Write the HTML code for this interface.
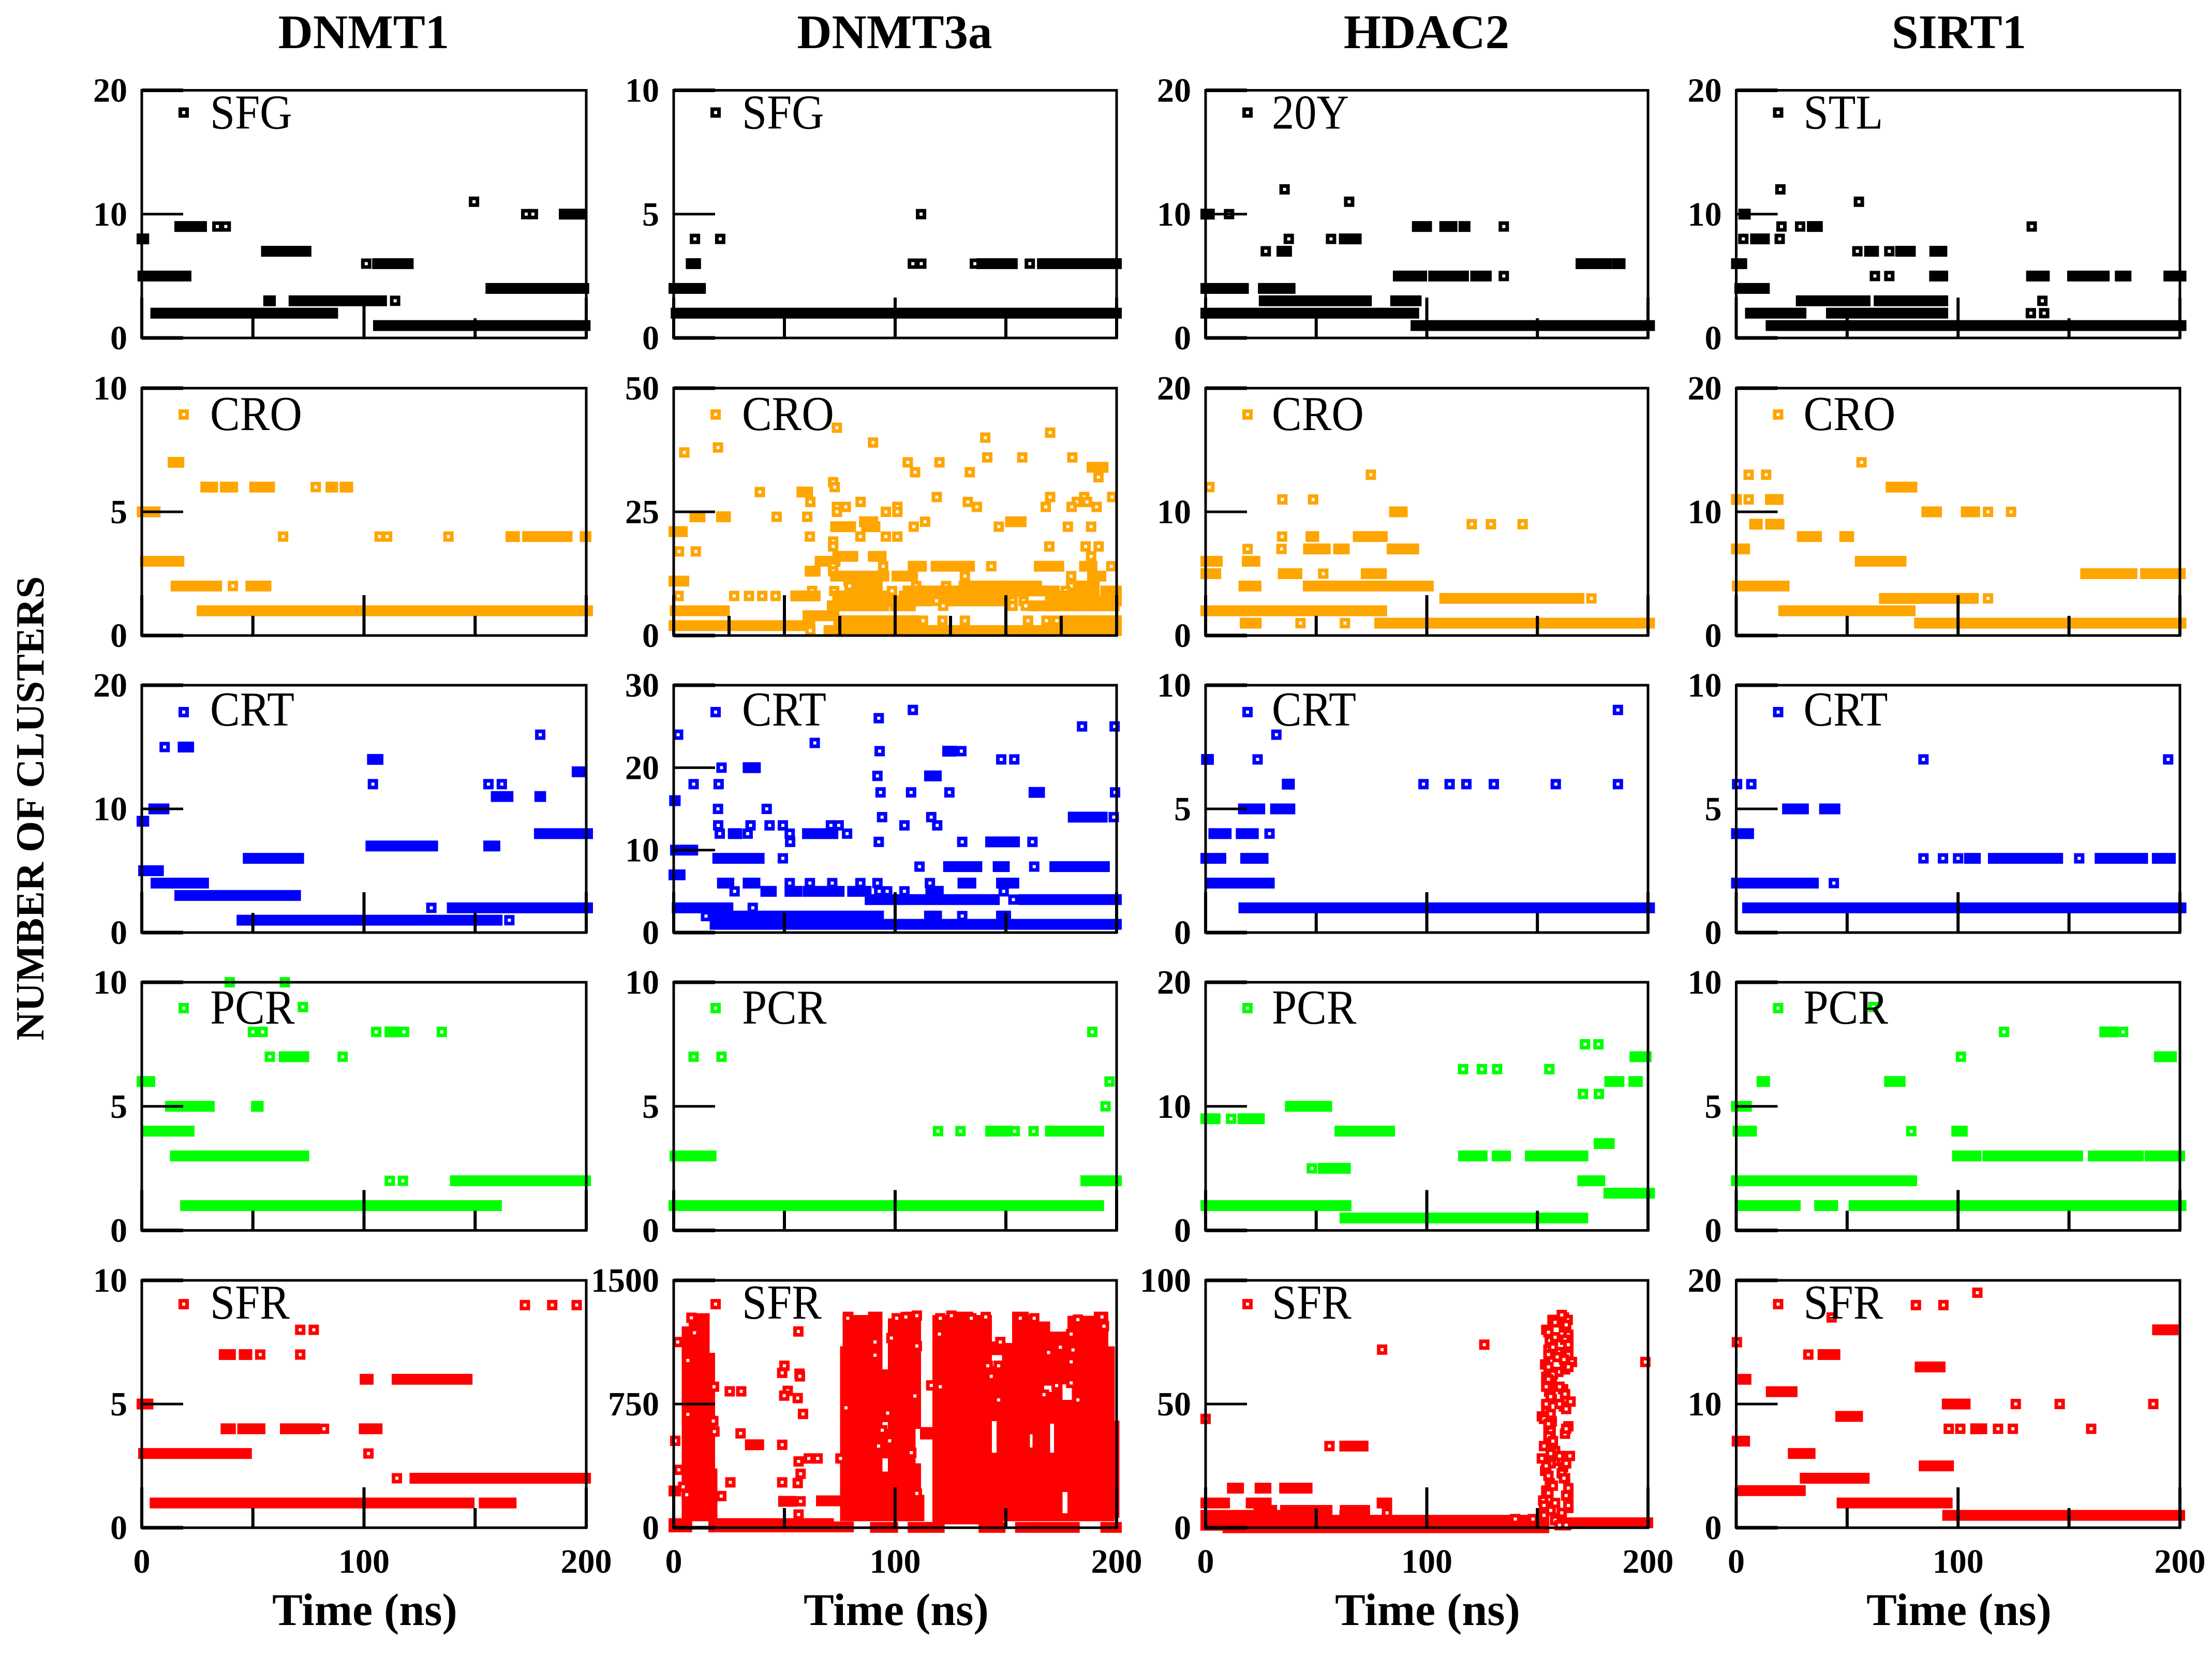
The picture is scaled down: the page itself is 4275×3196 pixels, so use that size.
<!DOCTYPE html>
<html lang="en">
<head>
<meta charset="utf-8">
<title>Number of clusters over time</title>
<style>
html,body{margin:0;padding:0;background:#fff;}
svg{display:block;font-family:"Liberation Serif",serif;}
.b{font-weight:bold;}
</style>
</head>
<body>
<svg id="chart" xmlns="http://www.w3.org/2000/svg" width="4275" height="3196" viewBox="0 0 4275 3196">
<rect width="4275" height="3196" fill="#fff"/>
<text class="b" x="703" y="93" font-size="93" text-anchor="middle">DNMT1</text>
<text class="b" x="1729" y="93" font-size="93" text-anchor="middle">DNMT3a</text>
<text class="b" x="2757" y="93" font-size="93" text-anchor="middle">HDAC2</text>
<text class="b" x="3786" y="93" font-size="93" text-anchor="middle">SIRT1</text>
<text class="b" transform="translate(84,1562) rotate(-90)" font-size="77.5" text-anchor="middle">NUMBER OF CLUSTERS</text>
<text class="b" x="705" y="3140" font-size="88" text-anchor="middle">Time (ns)</text>
<text class="b" x="1732" y="3140" font-size="88" text-anchor="middle">Time (ns)</text>
<text class="b" x="2759" y="3140" font-size="88" text-anchor="middle">Time (ns)</text>
<text class="b" x="3786" y="3140" font-size="88" text-anchor="middle">Time (ns)</text>
</svg>
<script>
// Each panel: cluster count (values) held over a time span in ns (starts..ends). start==end is a single frame.
const dnmt1SfgValues=[11,10,10,10,9,9,9,8,7,6,6,5,4,3,3,3,2,1];
const dnmt1SfgStarts=[149.5,173,176,190,17,34,37.8,0,56,101,106,0.4,157,57,68.4,114,6.2,106.4];
const dnmt1SfgEnds=[149.5,173,176,197.5,27,34,37.8,1,74,101,120,20,199,58,108,114,86,199.6];

const dnmt1CroValues=[7,6,6,6,6,6,6,5,4,4,4,4,4,4,4,3,2,2,2,1];
const dnmt1CroStarts=[14,28.7,37.5,50.7,78.3,85,91.4,0.1,63.6,107,110.4,138,166,173.5,199.4,1.5,15.3,41,49,27];
const dnmt1CroEnds=[16.8,32,41,57.6,78.3,86,92.8,6.1,63.6,107,110.4,138,167.8,191.5,200,16.8,33.8,41,56,200.7];

const dnmt1CrtValues=[15,15,16,14,13,12,12,12,11,11,10,9,8,7,7,6,5,4,3,2,2,1,1];
const dnmt1CrtStarts=[10.3,18.5,179.3,103.7,195.8,104,156,162,159.4,179,5.3,0,178.8,103,156,47.8,0.7,6.3,17,130.3,139.6,45,165.4];
const dnmt1CrtEnds=[10.3,21.2,179.3,106.4,197.2,104,156,162,164.9,179.6,10.1,1,200.7,131,159,70.7,7.6,27.9,69.3,130.3,200.7,160,165.4];

const dnmt1PcrValues=[10,10,9,8,8,8,8,8,8,7,7,7,6,5,5,4,3,2,2,2,1];
const dnmt1PcrStarts=[39.6,64.4,72.5,50,54.4,105.5,111.6,118,135,57.6,64,90.4,0,12.8,51.5,2,15,111.6,117.5,141,19.6];
const dnmt1PcrEnds=[39.6,64.4,72.5,50,54.4,105.5,113.4,118,135,57.6,73,90.4,3.7,30.5,52.5,21.4,73,111.6,117.5,199.8,159.7];

const dnmt1SfrValues=[9,9,9,8,8,7,7,7,7,6,6,5,4,4,4,4,4,3,3,2,2,1,1];
const dnmt1SfrStarts=[172.4,184.7,195.7,71.3,77.4,37,46,53.3,71.3,100.4,114.8,0,37.8,45.3,64.5,82,100,0.7,102,114.8,122.8,5.9,154];
const dnmt1SfrEnds=[172.4,184.7,195.7,71.3,77.4,40,47.4,53.3,71.3,102,146.5,2.9,40,53.3,77.7,82,106,47.2,102,114.8,199.8,147.4,166.3];

const dnmt3aSfgValues=[5,4,4,3,3,3,3,3,3,3,2,1];
const dnmt3aSfgStarts=[111.7,9.6,21,7.8,108,111.8,136,139,160.8,166.4,0,1];
const dnmt3aSfgEnds=[111.7,9.6,21,10,108,111.8,136,153,160.8,200,12.2,200];

const dnmt3aCroValues=[38,37,42,39,40,41,35,35,36,36,36,33,33,34,32,31,30,
 29,29,28,28,28,28,27,27,27,27,27,
 26,26,26,26,26,26,26,25,25,25,
 24,24,24,24,23,23,23,
 22,22,22,22,22,22,21,
 20,20,20,20,19,18,18,18,18,17,17,
 16,16,16,15,
 14,14,14,14,14,14,14,14,13,13,
 12,12,12,12,12,11,11,
 10,10,10,10,10,10,10,10,
 9,9,9,9,9,9,9,9,9,9,
 8,8,8,8,8,8,8,8,8,
 7,7,7,7,7,7,
 6,6,6,6,6,6,5,4,
 3,3,3,3,3,3,3,3,3,3,2,1,1];
const dnmt3aCroStarts=[20,4.8,73.7,90,140.7,170,105.7,120,141.6,157.4,180,109,133.7,188.8,191.8,72,72.7,
 38.9,57.8,118.8,170,185.4,198,61.7,84.4,132.8,182,186.6,
 73.7,77.7,101,136.9,168,179.7,191,95.8,101,73.7,
 9.5,21.5,46.5,60.3,86,113.5,152,
 73,87,108.4,146.8,178,188.5,0,
 61.5,84.3,95.8,101,72,169.6,186,191.9,72,2.4,10,
 74,90,188.5,66,
 94.6,108,118.4,143.4,165,185.4,197.6,72,61.5,72,
 73,100.7,131.5,179.5,189,0,79,
 79.4,83,109.5,123,131,152.6,179.5,183,
 62.5,72.5,83,98.6,105.7,128,150,177,183,195,
 2.2,27.3,34,40,46,55,74,104,170,
 74,118.7,125.5,153,158,172,
 71.5,100,121.7,153,159,163,0.6,60.5,
 74.5,112.6,121.4,131.5,160,168.3,173,177,185.4,186.5,0,70,61.7];
const dnmt3aCroEnds=[20,4.8,73.7,90,140.7,170,105.7,120,141.6,157.4,180,109,133.7,194,191.8,72,72.7,
 38.9,60.6,118.8,170,185.4,198,61.7,84.4,132.8,182,186.6,
 73.7,77.7,101,136.9,168,179.7,191,95.8,101,73.7,
 12,23.5,46.5,60.3,90,113.5,157,
 80,91,108.4,146.8,178,188.5,4,
 61.5,84.3,95.8,101,72,169.6,186,191.9,72,2.4,10,
 81,93.8,188.5,73,
 94.6,112,133.7,143.4,174,189,197.6,72,64,72,
 95,108,131.5,179.5,193,4.7,92,
 79.4,92,109.5,123,149,164,179.5,190,
 62.5,72.5,92,98.6,127,149,172,177,188,200,
 2.2,27.3,34,40,46,64,95,125,190,
 114,118.7,150.4,153,158,200,
 95,107,121.7,153,159,199,23,72.5,
 108.7,112.6,121.4,131.5,160,168.3,173,184,185.4,200,61.6,200,61.7];

const dnmt3aCrtValues=[27,26,25,25,24,23,22,22,22,21,21,20,20,19,19,18,18,
 17,17,17,17,17,16,15,15,14,14,14,14,
 13,13,13,13,13,13,13,13,12,12,12,12,12,12,
 11,11,11,11,11,10,9,9,8,8,8,8,8,7,
 6,6,6,6,6,6,6,6,6,6,
 5,5,5,5,5,5,5,5,5,5,
 4,4,4,3,3,2,2,2,2,2,1];
const dnmt3aCrtStarts=[108,92.6,184.4,199.1,2,63.7,93,123.6,129.9,147.9,153.8,21.6,33.5,92,115.4,9,20.3,
 93.4,107.2,124.5,162.6,199.3,0.3,20,42,94.1,116.3,180.3,198.7,
 20.1,34.7,43.3,49.3,71,74.5,104.2,119,20.8,26.8,33.4,52.4,60.3,78.3,
 52.6,92.6,130.3,143,162,0.7,19.8,49.3,111,124,146.4,162.8,172,0,
 21.9,33.5,52.4,61.5,71.6,84.3,92,115.7,130.5,147.9,
 27.5,41.5,52.4,60.6,80.7,92.8,96.4,104.2,116,149,
 88.6,153.4,158,1.5,35.7,14.6,18.9,115.4,130.3,147.9,18.6];
const dnmt3aCrtEnds=[108,92.6,184.4,199.1,2,63.7,93,125.4,129.9,147.9,153.8,21.6,37,92,118.7,9,20.3,
 93.4,107.2,124.5,165.3,199.3,0.8,20,42,94.1,116.3,193.6,198.7,
 20.1,34.7,43.3,49.3,71,74.5,104.2,119,20.8,28.6,33.4,52.4,72,78.3,
 52.6,92.6,130.3,154,162,8.7,38.7,49.3,111,137,149.4,162.8,194.6,3,
 25,36.8,52.4,61.5,71.6,84.3,92,115.7,134.3,153.7,
 27.5,44.2,55.8,74.8,87,92.8,96.4,104.2,119.6,149,
 144.9,153.4,200,24.6,35.7,14.6,92.6,118.8,130.3,150,200];

const dnmt3aPcrValues=[8,7,7,6,5,4,4,4,4,4,4,3,2,1];
const dnmt3aPcrStarts=[189,9,21.6,196.8,195,119.4,129.5,143,154,162.5,170,0.5,186,0];
const dnmt3aPcrEnds=[189,9,21.6,196.8,195,119.4,129.5,150,154,162.5,192,17,200,192];

const dnmt3aSfrValues=[1126,527,351,223,827,827,572,503,275,192,503,275,982,939,934,918,1190,830,801,786,690,420,420,402,327,271,160,160,80,420,163,25,5,25,5,2,2,2,2,2,2,1273,1182,1014,855,687,647,583,248,200,1270,1046,1150,1270,1278,1286,1270,1286,1270,1278,1270,1270,1262,1278,1222,1174,1102,1126,1126,1094,1174,1078,1006,1062,918,862,878,775,775,855,799,727,591,527,495,455,695,863,982,982,807,208];
const dnmt3aSfrStarts=[1.8,0.7,2.3,0,25.3,30.5,30.2,34.5,25.6,21.5,49,49,50,49,56.8,57,56.3,51.5,49.9,56,58.4,61,65,56.4,57.3,56,49.5,57.3,56.4,75.3,66.6,18,18,0,0,91,108,140,156.5,165,195,8,9.4,6.4,18.2,6.4,17.9,18.4,4.3,5.9,78.6,90.9,98.3,100.7,104.8,109.8,120.4,125.4,134.4,140.9,156.5,162.8,182.5,193.4,194.3,120,109.8,90.9,147.5,174.6,179.5,180.3,179.5,169.3,143.4,172.9,179.5,146.7,182.5,120.4,108.9,77.8,94.2,97.5,92.5,107.3,96.6,116.3,141.8,146.7,167.2,109.8];
const dnmt3aSfrEnds=[1.8,0.7,2.3,1,25.3,30.5,30.2,38.5,25.6,21.5,49,49,50,49,56.8,57,56.3,51.5,49.9,56,58.4,61,65,56.4,57.3,56,53,57.3,56.4,75.3,77.8,70,79,6,6,99,120,147.5,162,181,200,8,9.4,6.4,18.2,6.4,17.9,18.4,4.3,5.9,78.6,90.9,98.3,100.7,104.8,109.8,120.4,125.4,134.4,140.9,156.5,162.8,182.5,193.4,194.3,120,109.8,90.9,147.5,174.6,179.5,180.3,179.5,169.3,143.4,172.9,179.5,146.7,182.5,120.4,108.9,77.8,94.2,97.5,92.5,107.3,96.6,116.3,141.8,146.7,167.2,109.8];
// Dense trajectory regions of the DNMT3a/SFR panel: time span and cluster-count range.
const dnmt3aSfrBlockStarts=[7,3.8,16,16,75.3,76.5,81,88,94,94,94,97,104.5,109,109,111.5,111.5,117,124,135,143.5,143.5,143.5,146,146,148.5,153,160,160.6,160.6,162.3,164,167,167,169.7,169.7,171,169.7,172,175.4,175.4,175.4,177,177,177,178,178,180,190,196,199];
const dnmt3aSfrBlockEnds=[16,7,19.5,18.5,76.5,81,88,94,97,97,97,104.5,109,111.5,111.5,117,113,124,135,143.5,146,146,146,148.5,148.5,153,160,160.6,162.3,162.3,164,167,169.7,169.7,172,171,172,171,175.4,177,177,177,178,178,178,180,180,190,196,199,201];
const dnmt3aSfrBlockLows=[40,40,40,360,40,40,40,40,40,420,640,40,40,40,600,535,40,20,20,20,20,647,1046,20,1046,40,40,40,40,567,40,40,40,862,40,630,630,862,40,216,40,870,216,870,40,40,870,40,40,40,60];
const dnmt3aSfrBlockHighs=[1300,1220,360,1060,1100,1310,1290,1310,340,600,960,1270,1310,390,1310,610,200,1290,1310,1290,455,980,1130,980,1130,1120,1310,1290,487,1290,1290,1250,823,1250,455,823,1190,1190,1190,775,88,1190,775,1190,88,775,1285,1285,1310,1100,650];

const hdac2SfgValues=[12,11,10,10,9,9,9,9,8,8,8,7,7,6,6,5,5,5,5,4,4,3,3,2,1];
const hdac2SfgStarts=[35.7,64.9,0,10.6,95.6,108,116.7,134.8,37.6,56.7,62.6,27.2,34.4,169.6,186,87,103,122,134.8,0,26,26.4,85.8,0,95];
const hdac2SfgEnds=[35.7,64.9,1.8,10.6,100,111.5,117.4,134.8,37.6,56.7,68.2,27.2,36.7,181.3,187.5,97.8,116.7,127,134.8,17.2,38.3,72.8,95.3,94.2,200.8];

const hdac2CroValues=[13,12,11,11,10,9,9,9,8,8,8,7,7,7,7,7,6,6,5,5,5,5,4,4,3,3,2,1,1,1,1];
const hdac2CroStarts=[74.7,1.7,34.7,48.6,85.3,120.3,129,143.3,34.6,47.5,68.9,19,34.3,46.4,60,84.2,0,18.7,0,35,53.2,72.5,17.2,46.3,108,174.4,0,17.8,42.9,63,78.6];
const hdac2CroEnds=[74.7,1.7,34.7,48.6,89,120.3,129,143.3,34.6,49,80,19,34.3,54.2,62.8,94.2,5.4,22.4,4.7,41.4,53.2,79.6,22.9,100.8,168.9,174.4,79.7,23,42.9,63,200.8];

const hdac2CrtValues=[9,8,7,7,6,6,6,6,6,6,6,5,5,4,4,4,3,3,2,1];
const hdac2CrtStarts=[186.4,32,0.3,23.5,36.8,98.5,110.3,117.9,130.3,158.3,186.4,17,31.5,3.6,16,28.9,0,18,2.8,17.2];
const hdac2CrtEnds=[186.4,32,1.4,23.5,38,98.5,110.3,117.9,130.3,158.3,186.4,24.6,38.2,9.4,21.7,28.9,7,26.1,28.9,200.8];

const hdac2PcrValues=[15,15,14,13,13,13,13,12,12,11,11,10,9,9,9,8,7,6,6,6,5,5,4,3,2,1];
const hdac2PcrStarts=[171.5,177.6,194,116.4,124.9,131.8,155.4,182.6,193.5,170.6,177.8,38.2,0,11.5,16.8,60.6,177.8,116.5,131.7,146.7,48,53,170.4,182.2,0,62.9];
const hdac2PcrEnds=[171.5,177.6,199.3,116.4,124.9,131.8,155.4,187,195.3,170.6,177.8,54.9,4.4,11.5,24.4,83.3,182.6,125.1,135.7,170.7,48,63.3,178.3,200.8,63.6,170.6];

const hdac2SfrValues=[72,74,67,44,33,33,16,16,16,10,10,10,6,5,5,3,1,0,0,3.5,3.5,2,7,7,7,85,84,84,80,81,78,76,75.6,72,71,70,70,67,66,64,63,61,58.6,56,55,54,51,52,49,47,45,43,41,41,38,36,32,29,28,27,24.5,23,22,20,18,15,12,11,10,8,8.5,4,2];
const hdac2SfrStarts=[79.8,126,198.8,0,56,62.8,12,24.5,35.6,0,20.5,79.7,82,0,62.8,0,0,20,10,140,148,165,24,36,63,162,163.7,156.8,154,162,164,162.5,155.6,155,159.5,164,155,165.6,153.5,162.5,159.5,154,156.5,161.6,155.3,162.5,165,156.5,162,154,152,156.5,155,164,162.5,155,156.5,164.7,152,158,161.6,153.5,161,162.5,155.6,154,164,152.6,158,164,153.5,160,161];
const hdac2SfrEnds=[79.8,126,198.8,0,56,71.3,15,27.4,46,8.7,27.5,82,82,55,72,153,153,153,18,140,148,200,30,55,72,162,163.7,156.8,154,162,164,162.5,155.6,155,159.5,164,155,165.6,153.5,162.5,159.5,154,156.5,161.6,155.3,162.5,165,156.5,162,154,152,156.5,155,164,162.5,155,156.5,164.7,152,158,161.6,153.5,161,162.5,155.6,154,164,152.6,158,164,153.5,160,161];
const hdac2SfrClusterValues=[86,83,82,79,77,74,73,69,68,65,65,62,60,57,57,53,50,50,48,46,44,42,40,39,37,35,33,31,30,29,26,26,25,21,20,17,16,14,13,9,9,7,6,5,3,1,1];
const hdac2SfrClusterTimes=[161,158,163,155,158,164,157,159,162,155,164,157,155,154,160,156,160,154,163,156,153,155,163,156,155,157,153,158,156,160,156,163,154,155,162,157,164,155,163,153,164,156,161,153,158,160,163];

const sirt1SfgValues=[12,11,10,9,9,9,9,8,8,8,7,7,7,7,7,6,5,5,5,5,5,5,5,4,3,3,3,2,2,2,2,1];
const sirt1SfgStarts=[19.9,55.3,3.3,20.4,28.8,34.2,133.2,3.2,8.6,19.6,54.6,60,69,74,89.4,0,62.5,69,89.3,133,151.5,173,194.9,1.5,29.2,64.3,138,6.3,42.8,132.8,138.8,15.6];
const sirt1SfgEnds=[19.9,55.3,4.2,20.4,28.8,36.7,133.2,3.2,12.8,19.6,54.6,62,69,78.6,92.8,2.6,62.5,69,93.2,139,166,175.8,200.6,12.8,58.2,93.2,138,29.3,93.2,132.8,138.8,200.6];

const sirt1CroValues=[14,13,13,12,11,11,11,10,10,10,10,9,9,8,8,7,6,5,5,4,3,3,2,1];
const sirt1CroStarts=[56.5,5.6,13.5,69.7,0,5.6,15.3,85.8,103.6,113.5,123.9,8.2,15.4,29.7,48.8,0,55.8,157.4,184.4,0.4,66.7,113.5,21.3,82.5];
const sirt1CroEnds=[56.5,5.6,13.5,79.3,0.2,5.6,19,90.4,107.6,113.5,123.9,9.6,19.4,36.3,50.8,3.9,74.4,178.5,200.3,21.7,107,113.5,78.5,200.6];

const sirt1CrtValues=[7,7,6,6,5,5,4,3,3,3,3,3,3,3,3,2,2,1];
const sirt1CrtStarts=[84.4,194.7,0.4,6.8,23,39.7,0,84.4,93.2,100,105,115.8,154.6,163.9,189.7,0,44,5];
const sirt1CrtEnds=[84.4,194.7,0.4,6.8,30.4,44.6,5.7,84.4,93.2,100,107.9,145,154.6,183.3,195.8,34.9,44,200.6];

const sirt1PcrValues=[9,8,8,8,7,7,6,6,5,4,4,4,3,3,3,3,2,1,1,1];
const sirt1PcrStarts=[61.8,120.7,166,174.4,101.3,190.6,11.5,69,0,0.7,78.9,99.3,99.6,113.3,160.8,186.4,0,2.9,37.5,53];
const sirt1PcrEnds=[61.8,120.7,169.7,174.4,101.3,196.3,12.9,74,4.7,7,78.9,102,108.2,154,181.4,200,79.2,26.7,43.6,200.6];

const sirt1SfrValues=[19,18,18,17,16,15,14,14,13,12,11,10,10,10,10,9,8,8,8,8,8,8,7,6,5,4,3,2,1];
const sirt1SfrStarts=[108.7,81,93.4,43,189.8,0.3,32.5,39,82.8,3,15.7,95,126,145.8,188,47,95.8,101,107.8,118,124.7,160,0.3,25.6,84.6,31,3,47.6,95.2];
const sirt1SfrEnds=[108.7,81,93.4,43,197,0.3,32.5,44.6,92,4.5,25.3,103.3,126,145.8,188,54.8,95.8,101,110.8,118,124.7,160,3.9,33.4,95.8,57.8,29,95.2,200];

// Axis ticks
const yMaxDnmt1=[20,10,20,10,10];
const yMaxDnmt3a=[10,50,30,10,1500];
const yMaxHdac2=[20,20,10,20,100];
const yMaxSirt1=[20,20,10,10,20];
const dnmt3aCrtYTicks=[30,20,10,0];
const xTickLabels=[0,100,200];
const xMajorTicks=[0,100,200];
const xMinorTicks=[50,150];
const xMajorTicksDense=[0,50,100,150,200];
const xMinorTicksDense=[25,75,125,175];
const legendNames=[
  ['SFG','CRO','CRT','PCR','SFR'],
  ['SFG','CRO','CRT','PCR','SFR'],
  ['20Y','CRO','CRT','PCR','SFR'],
  ['STL','CRO','CRT','PCR','SFR']
];

const seriesByColumn=[
 [[dnmt1SfgValues,dnmt1SfgStarts,dnmt1SfgEnds],[dnmt1CroValues,dnmt1CroStarts,dnmt1CroEnds],[dnmt1CrtValues,dnmt1CrtStarts,dnmt1CrtEnds],[dnmt1PcrValues,dnmt1PcrStarts,dnmt1PcrEnds],[dnmt1SfrValues,dnmt1SfrStarts,dnmt1SfrEnds]],
 [[dnmt3aSfgValues,dnmt3aSfgStarts,dnmt3aSfgEnds],[dnmt3aCroValues,dnmt3aCroStarts,dnmt3aCroEnds],[dnmt3aCrtValues,dnmt3aCrtStarts,dnmt3aCrtEnds],[dnmt3aPcrValues,dnmt3aPcrStarts,dnmt3aPcrEnds],[dnmt3aSfrValues,dnmt3aSfrStarts,dnmt3aSfrEnds]],
 [[hdac2SfgValues,hdac2SfgStarts,hdac2SfgEnds],[hdac2CroValues,hdac2CroStarts,hdac2CroEnds],[hdac2CrtValues,hdac2CrtStarts,hdac2CrtEnds],[hdac2PcrValues,hdac2PcrStarts,hdac2PcrEnds],[hdac2SfrValues.concat(hdac2SfrClusterValues),hdac2SfrStarts.concat(hdac2SfrClusterTimes),hdac2SfrEnds.concat(hdac2SfrClusterTimes)]],
 [[sirt1SfgValues,sirt1SfgStarts,sirt1SfgEnds],[sirt1CroValues,sirt1CroStarts,sirt1CroEnds],[sirt1CrtValues,sirt1CrtStarts,sirt1CrtEnds],[sirt1PcrValues,sirt1PcrStarts,sirt1PcrEnds],[sirt1SfrValues,sirt1SfrStarts,sirt1SfrEnds]]
];
const yMaxByColumn=[yMaxDnmt1,yMaxDnmt3a,yMaxHdac2,yMaxSirt1];

// Layout
const colLeft=[274,1302,2330,3355.5];
const colRight=[1133,2158,3185,4213];
const rowTop=[174.5,750,1324,1898,2474];
const rowBottom=[653,1228,1802,2377.5,2952];
const rowColors=['#000000','#ffa500','#0000ff','#00ff00','#ff0000'];
const legendMarkerDy=[43,51,52,50,46];
const legendTextDy=[74,81,78,80,74];
const legendTextDx=[132,132,128,130];
const MARK=20, RUN_HEIGHT=21, STROKE=7;
const svg=document.getElementById('chart');
const NS='http://www.w3.org/2000/svg';

function make(tag,attrs){
  const el=document.createElementNS(NS,tag);
  for(const k in attrs){el.setAttribute(k,attrs[k]);}
  return el;
}
function hollow(parent,cx,cy,color){
  const s=MARK-STROKE;
  const el=make('rect',{x:cx-s/2,y:cy-s/2,width:s,height:s,fill:'#fff',stroke:color,'stroke-width':STROKE});
  
  
  parent.appendChild(el);
}
function run(parent,x0,x1,cy,color){
  const el=make('rect',{x:x0-MARK/2,y:cy-RUN_HEIGHT/2,width:x1-x0+MARK,height:RUN_HEIGHT,fill:color});
  
  
  parent.appendChild(el);
}
function line(parent,x1,y1,x2,y2,w,name){
  const el=make('line',{x1:x1,y1:y1,x2:x2,y2:y2,stroke:'#000','stroke-width':w});
  
  
  parent.appendChild(el);
}
function label(parent,x,y,txt,size,anchor,bold,name){
  const el=make('text',{x:x,y:y,'font-size':size,'text-anchor':anchor});
  if(bold){el.setAttribute('font-weight','bold');}
  el.textContent=txt;
  
  
  parent.appendChild(el);
}

for(let c=0;c<4;c++){
  for(let r=0;r<5;r++){
    const L=colLeft[c],R=colRight[c],T=rowTop[r],B=rowBottom[r];
    const yMax=yMaxByColumn[c][r];
    const color=rowColors[r];
    const xScale=t=>L+(R-L)*t/200;
    const yScale=v=>B-(B-T)*v/yMax;
    const g=make('g',{});
    
    
    svg.appendChild(g);

    // dense regions (slight overlap so neighbouring regions leave no seam)
    if(c===1&&r===4){
      for(let i=0;i<dnmt3aSfrBlockStarts.length;i++){
        const x0=xScale(dnmt3aSfrBlockStarts[i]),x1=xScale(dnmt3aSfrBlockEnds[i]);
        const y0=yScale(dnmt3aSfrBlockHighs[i]),y1=yScale(dnmt3aSfrBlockLows[i]);
        const el=make('rect',{x:x0-1,y:y0,width:x1-x0+2,height:y1-y0,fill:color,'shape-rendering':'crispEdges'});
        
        
        g.appendChild(el);
      }
    }
    // series
    const s=seriesByColumn[c][r];
    for(let i=0;i<s[0].length;i++){
      if(s[1][i]===s[2][i]){hollow(g,xScale(s[1][i]),yScale(s[0][i]),color);}
      else{run(g,xScale(s[1][i]),xScale(s[2][i]),yScale(s[0][i]),color);}
    }
    // frame
    const frame=make('rect',{x:L,y:T,width:R-L,height:B-T,fill:'none',stroke:'#000','stroke-width':5});
    
    
    g.appendChild(frame);
    // y ticks
    const yTicks=(c===1&&r===2)?dnmt3aCrtYTicks:[yMax,yMax/2,0];
    yTicks.forEach(v=>{
      const edge=(v===0||v===yMax);
      line(g,L,yScale(v),L+80,yScale(v),edge?7:5,'y-tick');
      label(g,L-28,yScale(v)+22,String(v),66,'end',true,'y-tick-label');
    });
    // x ticks
    const dense=(c===1&&r===1);
    (dense?xMajorTicksDense:xMajorTicks).forEach(t=>line(g,xScale(t),B,xScale(t),B-78,6,'x-major-tick'));
    (dense?xMinorTicksDense:xMinorTicks).forEach(t=>line(g,xScale(t),B,xScale(t),B-38,6,'x-minor-tick'));
    if(r===4){
      xTickLabels.forEach(t=>label(g,xScale(t),3039,String(t),66,'middle',true,'x-tick-label'));
    }
    // legend
    hollow(g,L+81,T+legendMarkerDy[r],color);
    const tx=L+legendTextDx[c],ty=T+legendTextDy[r];
    const lt=make('text',{transform:'translate('+tx+','+ty+') scale(0.92,1)','font-size':94});
    lt.textContent=legendNames[c][r];
    
    
    g.appendChild(lt);
  }
}
</script>
</body>
</html>
